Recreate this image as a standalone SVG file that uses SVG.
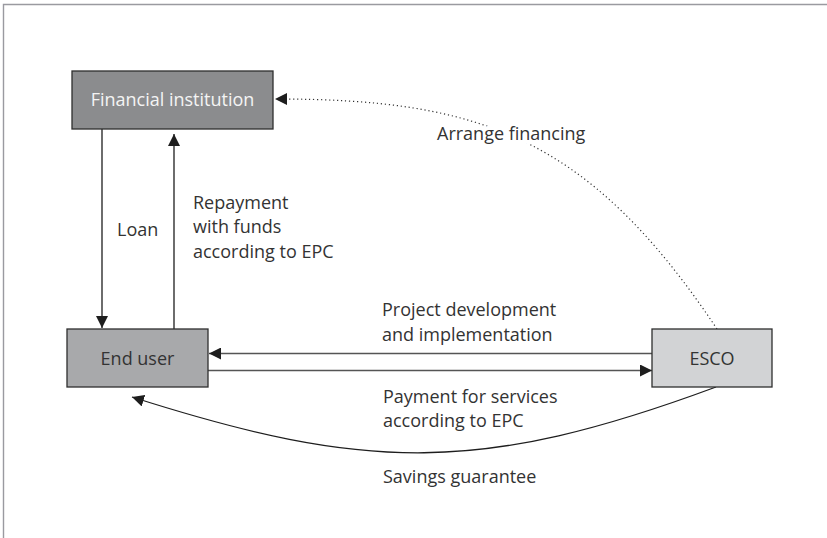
<svg xmlns="http://www.w3.org/2000/svg" width="827" height="538" viewBox="0 0 827 538">
  <defs>
    <marker id="arrow" markerUnits="userSpaceOnUse" markerWidth="13" markerHeight="12" refX="12" refY="6" orient="auto">
      <path d="M0,0 L12,6 L0,12 Z" fill="#1e1e1e"/>
    </marker>
    <style>
      .box { stroke: #2e2e2e; stroke-width: 1.3; }
      .lbl { font-family: "Open Sans", "Noto Sans", sans-serif; font-size: 18px; fill: #333333; }
      .conn { fill: none; stroke: #1e1e1e; stroke-width: 1.3; }
      .hconn { fill: none; stroke: #555555; stroke-width: 1.7; }
      .dots { fill: none; stroke: #333333; stroke-width: 1.2; stroke-dasharray: 1.2 2.8; }
      .halo { stroke: #ffffff; stroke-width: 8; paint-order: stroke; stroke-linejoin: round; }
    </style>
  </defs>
  <rect width="827" height="538" fill="#ffffff"/>
  <path d="M3.5,538 V4.5 H827" fill="none" stroke="#9a9aa0" stroke-width="1.4"/>

  <g id="connectors">
    <path class="conn" d="M102,129 V328" marker-end="url(#arrow)"/>
    <path class="conn" d="M174,329 V134" marker-end="url(#arrow)"/>
    <path class="hconn" d="M652,353.5 H209" marker-end="url(#arrow)"/>
    <path class="hconn" d="M208,370.5 H652" marker-end="url(#arrow)"/>
    <path class="conn" d="M716,387 C481,474 367,472 132,397" marker-end="url(#arrow)"/>
    <path class="dots" d="M717,329 C587,134 476,99 275,99" marker-end="url(#arrow)"/>
    <text class="lbl" x="117" y="236">Loan</text>
    <text class="lbl" x="193" y="209">Repayment</text>
    <text class="lbl" x="193" y="233">with funds</text>
    <text class="lbl" x="193" y="258">according to EPC</text>
    <text class="lbl halo" x="437" y="140">Arrange financing</text>
    <text class="lbl" x="382" y="316">Project development</text>
    <text class="lbl" x="382" y="341">and implementation</text>
    <text class="lbl" x="383" y="403">Payment for services</text>
    <text class="lbl" x="383" y="427">according to EPC</text>
    <text class="lbl" x="383" y="483">Savings guarantee</text>
  </g>

  <g id="financial-institution">
    <rect class="box" x="72" y="71" width="201" height="58" fill="#8b8c8e"/>
    <text class="lbl" x="172.5" y="106" text-anchor="middle" fill="#f4f4f4" style="fill:#f4f4f4">Financial institution</text>
  </g>
  <g id="end-user">
    <rect class="box" x="67" y="329" width="141" height="58" fill="#a8a9ab"/>
    <text class="lbl" x="137.5" y="364.5" text-anchor="middle">End user</text>
  </g>
  <g id="esco">
    <rect class="box" x="652" y="329" width="120" height="58" fill="#d2d3d5"/>
    <text class="lbl" x="712" y="365" text-anchor="middle">ESCO</text>
  </g>
</svg>
